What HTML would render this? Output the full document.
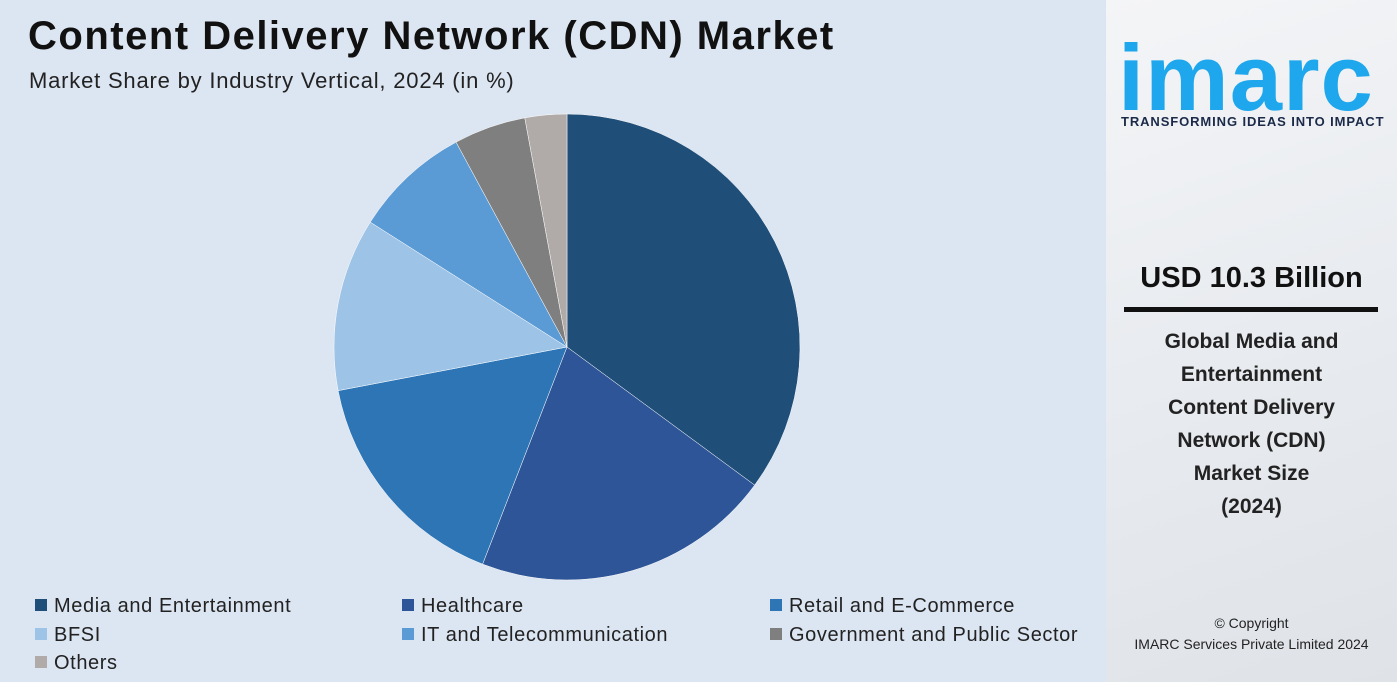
<!DOCTYPE html>
<html><head><meta charset="utf-8"><style>
body{margin:0;width:1397px;height:682px;overflow:hidden;font-family:"Liberation Sans",sans-serif;background:#dce5f2;position:relative}
.t{position:absolute;white-space:nowrap}
.leg{position:absolute;font-size:20px;color:#222;white-space:nowrap;letter-spacing:0.6px}
.leg span{display:inline-block;width:12px;height:12px;margin-right:7px;vertical-align:1px}
#right{position:absolute;left:1106px;top:0;width:291px;height:682px;background:linear-gradient(160deg,#f4f5f7 0%,#e9ecf0 45%,#dfe3e8 100%)}
</style></head><body>
<div class="t" style="left:28px;top:14px;font-size:40px;font-weight:bold;color:#111;letter-spacing:1.5px">Content Delivery Network (CDN) Market</div>
<div class="t" style="left:29px;top:68px;font-size:22px;color:#222;letter-spacing:0.8px">Market Share by Industry Vertical, 2024 (in %)</div>
<svg id="pie" width="1100" height="600" style="position:absolute;left:0;top:0"></svg>
<div id="legend"></div>
<div id="right">
<div class="t" style="left:12px;top:24px;font-size:94px;font-weight:bold;color:#1ea7ec;letter-spacing:1px">imarc</div>
<div class="t" style="left:15px;top:114px;font-size:13px;font-weight:bold;color:#1b2a48;letter-spacing:0.9px">TRANSFORMING IDEAS INTO IMPACT</div>
<div class="t" style="left:0;width:291px;text-align:center;top:262px;font-size:29px;font-weight:bold;color:#111">USD 10.3 Billion</div>
<div style="position:absolute;left:18px;top:307px;width:254px;height:5px;background:#111"></div>
<div style="position:absolute;left:0;width:291px;top:325px;text-align:center;font-size:21px;font-weight:bold;color:#222;line-height:33px">Global Media and<br>Entertainment<br>Content Delivery<br>Network (CDN)<br>Market Size<br>(2024)</div>
<div style="position:absolute;left:0;width:291px;top:613px;text-align:center;font-size:14px;color:#222;line-height:21px">© Copyright<br>IMARC Services Private Limited 2024</div>
</div>
<script>
const categories=["Media and Entertainment","Healthcare","Retail and E-Commerce","BFSI","IT and Telecommunication","Government and Public Sector","Others"];
const values=[35.1,20.8,16.1,12.0,8.1,5.0,2.9];
const colors=["#1f4e79","#2e5597","#2e75b6","#9dc3e6","#5b9bd5","#7f7f7f","#b0aba8"];
const cx=567,cy=347,r=233;
const svg=document.getElementById('pie');
const total=values.reduce((a,b)=>a+b,0);
let acc=0;
function pt(f){const a=f*2*Math.PI;return [cx+r*Math.sin(a),cy-r*Math.cos(a)];}
values.forEach((v,i)=>{
 const s=pt(acc/total);acc+=v;const e=pt(acc/total);
 const large=v/total>0.5?1:0;
 const p=document.createElementNS('http://www.w3.org/2000/svg','path');
 p.setAttribute('d',`M${cx},${cy}L${s[0]},${s[1]}A${r},${r} 0 ${large} 1 ${e[0]},${e[1]}Z`);
 p.setAttribute('fill',colors[i]);p.setAttribute('stroke','#fff');p.setAttribute('stroke-width','0.5');
 
 
 svg.appendChild(p);
});
const lx=[35,402,770],ly=[595,624,652];
const lg=document.getElementById('legend');
categories.forEach((c,i)=>{
 const d=document.createElement('div');d.className='leg';
 d.style.left=lx[i%3]+'px';d.style.top=ly[Math.floor(i/3)]+'px';
 d.innerHTML=`<span style="background:${colors[i]}"></span>${c}`;
 
 
 lg.appendChild(d);
});
</script>
</body></html>
